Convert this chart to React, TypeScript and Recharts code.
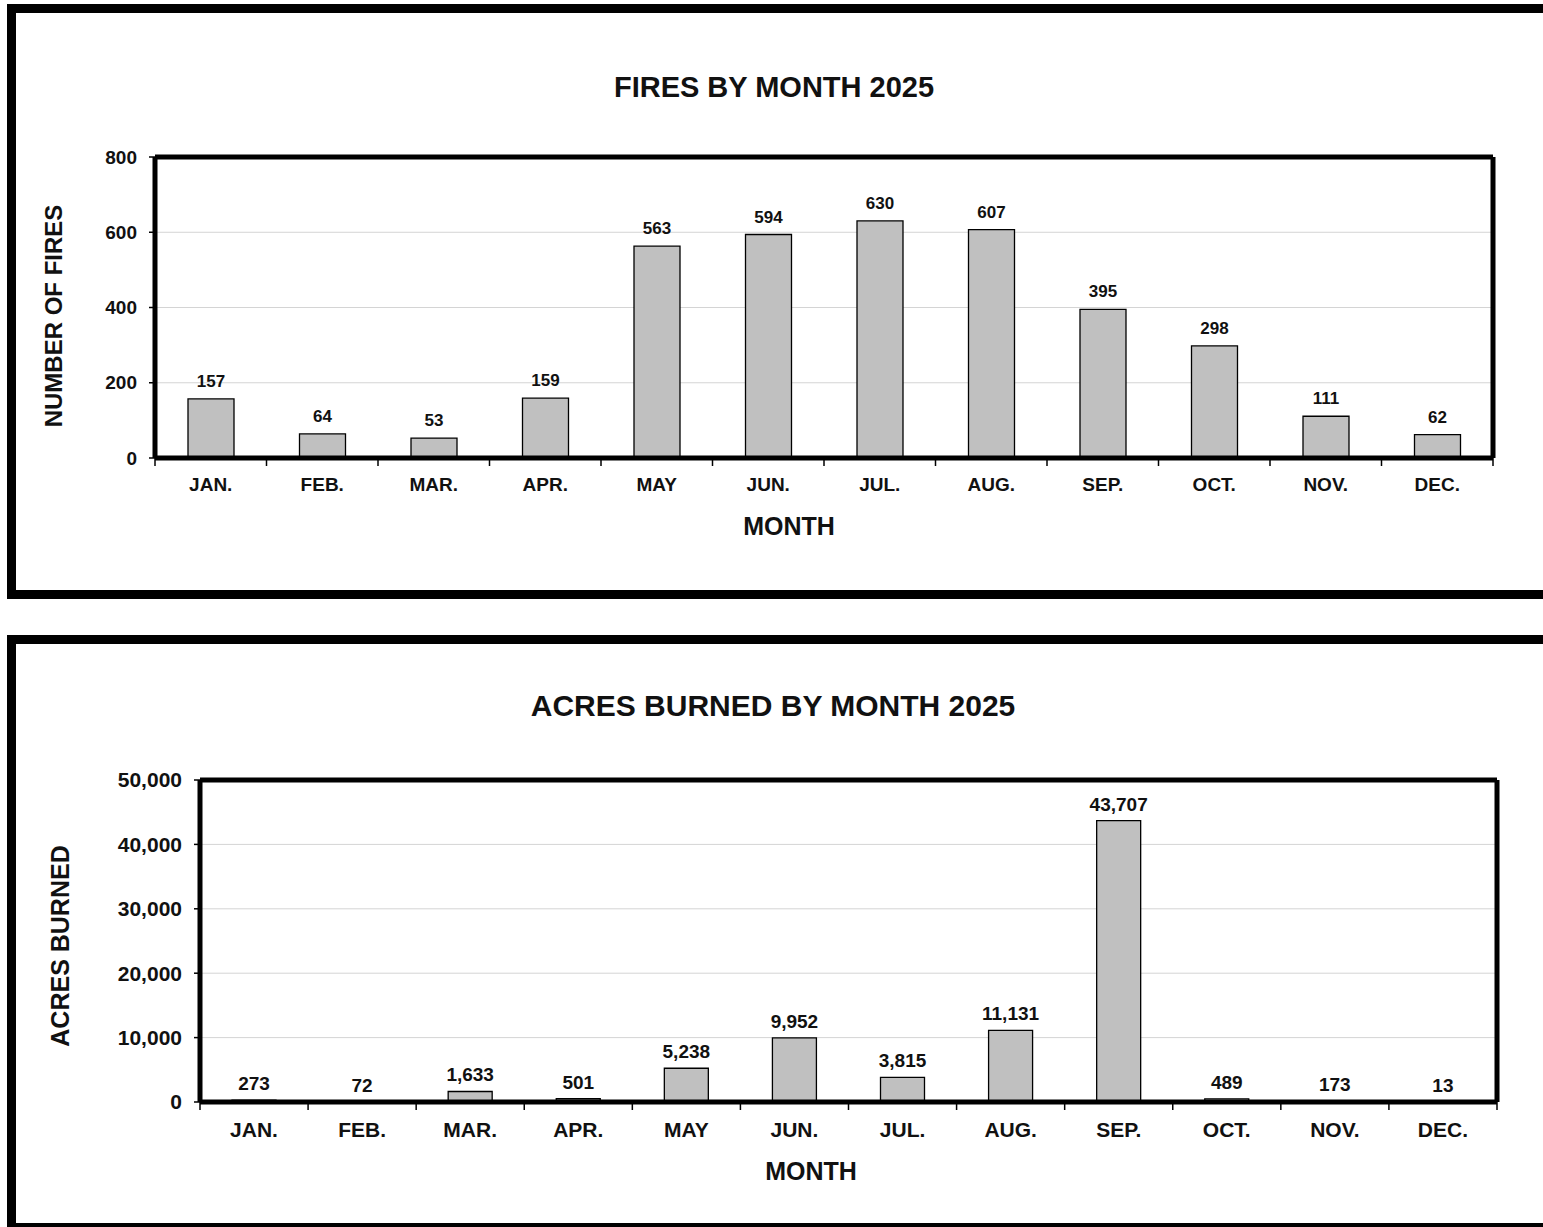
import React from 'react'
import {
  Bar,
  BarChart,
  CartesianGrid,
  LabelList,
  ReferenceLine,
  XAxis,
  YAxis
} from 'recharts'

const months = ['JAN.', 'FEB.', 'MAR.', 'APR.', 'MAY', 'JUN.', 'JUL.', 'AUG.', 'SEP.', 'OCT.', 'NOV.', 'DEC.']
const fires = [157, 64, 53, 159, 563, 594, 630, 607, 395, 298, 111, 62]
const acres = [273, 72, 1633, 501, 5238, 9952, 3815, 11131, 43707, 489, 173, 13]
const fireTicks = [0, 200, 400, 600, 800]
const acreTicks = [0, 10000, 20000, 30000, 40000, 50000]
const edgeTicks = [0, 1, 2, 3, 4, 5, 6, 7, 8, 9, 10, 11, 12]

const FONT = "'Liberation Sans', Arial, Helvetica, sans-serif"
const INK = '#111'

const fireData = months.map((month, i) => ({ month, idx: i + 0.5, value: fires[i] }))
const acreData = months.map((month, i) => ({ month, idx: i + 0.5, value: acres[i] }))

const fmt = (v: number) => v.toLocaleString('en-US')

type ChartProps = {
  data: { month: string; idx: number; value: number }[]
  ticks: number[]
  top: number
  height: number
  margin: { top: number; right: number; left: number; bottom: number }
  yWidth: number
  tickFont: number
  labelFont: number
  labelOffset: number
  barSize: number
}

const MonthChart = ({ data, ticks, top, height, margin, yWidth, tickFont, labelFont, labelOffset, barSize }: ChartProps) => {
  const yMax = ticks[ticks.length - 1]
  const tickStyle = { fill: INK, fontSize: tickFont, fontWeight: 700, fontFamily: FONT }
  return (
    <div style={{ position: 'absolute', left: 0, top }}>
      <BarChart width={1543} height={height} data={data} margin={margin}>
        <CartesianGrid xAxisId='b' vertical={false} stroke='#d4d4d4' strokeWidth={1} />
        {/* month labels, no tick marks */}
        <XAxis
          xAxisId='b'
          dataKey='month'
          orientation='bottom'
          height={60}
          axisLine={false}
          tickLine={false}
          tickSize={6}
          tickMargin={13}
          interval={0}
          tick={tickStyle}
        />
        {/* thick baseline with tick marks between months */}
        <XAxis
          xAxisId='a'
          type='number'
          dataKey='idx'
          domain={[0, 12]}
          ticks={edgeTicks}
          interval={0}
          orientation='bottom'
          height={1}
          axisLine={{ stroke: '#000', strokeWidth: 5 }}
          tickLine={{ stroke: '#000', strokeWidth: 1.5 }}
          tickSize={8}
          tick={() => <g />}
        />
        <YAxis
          domain={[0, yMax]}
          ticks={ticks}
          width={yWidth}
          interval={0}
          axisLine={{ stroke: '#000', strokeWidth: 5 }}
          tickLine={{ stroke: '#000', strokeWidth: 1.5 }}
          tickSize={6}
          tickMargin={12}
          tickFormatter={fmt}
          tick={tickStyle}
        />
        <ReferenceLine xAxisId='b' y={yMax} stroke='#000' strokeWidth={5} />
        <ReferenceLine xAxisId='a' x={12} stroke='#000' strokeWidth={5} />
        <Bar
          xAxisId='b'
          dataKey='value'
          fill='#c0c0c0'
          stroke='#000'
          strokeWidth={1.3}
          barSize={barSize}
          isAnimationActive={false}>
          <LabelList
            dataKey='value'
            position='top'
            offset={labelOffset}
            formatter={(v: any) => fmt(Number(v))}
            style={{ fill: INK, fontSize: labelFont, fontWeight: 700, fontFamily: FONT }}
          />
        </Bar>
      </BarChart>
    </div>
  )
}

const Text = ({ x, y, size, rotate, children }: { x: number; y: number; size: number; rotate?: boolean; children: React.ReactNode }) => (
  <div
    style={{
      position: 'absolute',
      left: x,
      top: y,
      transform: `translate(-50%, -50%)${rotate ? ' rotate(-90deg)' : ''}`,
      fontFamily: FONT,
      fontWeight: 700,
      fontSize: size,
      lineHeight: 1,
      color: INK,
      whiteSpace: 'nowrap'
    }}>
    {children}
  </div>
)

const panelStyle = (top: number, height: number): React.CSSProperties => ({
  position: 'absolute',
  left: 7,
  top,
  width: 1570,
  height,
  border: '9px solid #000',
  boxSizing: 'border-box',
  background: '#fff'
})

const App = () => {
  return (
    <div style={{ position: 'absolute', left: 0, top: 0, width: 1543, height: 1227, overflow: 'hidden', background: '#fff' }}>
      <div style={panelStyle(4, 595)} />
      <div style={panelStyle(635, 597)} />

      <MonthChart
        data={fireData}
        ticks={fireTicks}
        top={0}
        height={600}
        margin={{ top: 157, right: 50, left: 0, bottom: 81 }}
        yWidth={155}
        tickFont={19}
        labelFont={17}
        labelOffset={12}
        barSize={46}
      />
      <MonthChart
        data={acreData}
        ticks={acreTicks}
        top={620}
        height={600}
        margin={{ top: 160, right: 46, left: 0, bottom: 57 }}
        yWidth={200}
        tickFont={21}
        labelFont={19}
        labelOffset={10}
        barSize={44}
      />

      <Text x={774} y={87} size={29}>FIRES BY MONTH 2025</Text>
      <Text x={789} y={526} size={25}>MONTH</Text>
      <Text x={54} y={316} size={24} rotate>NUMBER OF FIRES</Text>

      <Text x={773} y={706} size={30}>ACRES BURNED BY MONTH 2025</Text>
      <Text x={811} y={1171} size={25}>MONTH</Text>
      <Text x={60} y={946} size={25} rotate>ACRES BURNED</Text>
    </div>
  )
}

export default App
